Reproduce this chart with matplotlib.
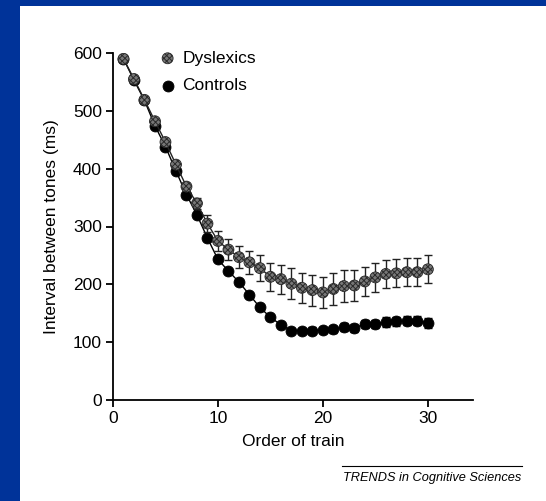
import matplotlib
matplotlib.use("Agg")
import matplotlib.pyplot as plt
from matplotlib.lines import Line2D
from matplotlib.patches import Rectangle
import numpy as np

plt.rcParams['font.family'] = ['Liberation Sans', 'DejaVu Sans']
plt.rcParams['hatch.linewidth'] = 0.7

# order of train
train = np.arange(1, 31)
# dyslexics: mean interval (ms) and error
dys = [590, 555, 519, 482, 446, 407, 369, 340, 305, 275,
       260, 247, 238, 228, 213, 209, 201, 194, 190, 186,
       192, 197, 198, 205, 212, 218, 219, 221, 221, 226]
dys_err = [0, 0, 0, 0, 0, 4, 6, 10, 15, 17,
           18, 19, 20, 22, 24, 25, 27, 26, 27, 27,
           27, 27, 26, 25, 25, 24, 24, 24, 24, 24]
# controls
ctrl = [590, 553, 518, 474, 438, 396, 355, 320, 280, 243,
        223, 204, 182, 160, 143, 130, 120, 120, 120, 121,
        122, 126, 124, 132, 131, 135, 136, 137, 137, 133]
ctrl_err = [0, 0, 0, 0, 0, 0, 0, 0, 0, 0,
            0, 0, 0, 0, 3, 4, 5, 5, 6, 6,
            6, 7, 7, 7, 7, 8, 8, 8, 8, 8]

W, H = 546, 501
fig = plt.figure(figsize=(W / 100, H / 100), dpi=100)
fig.patch.set_facecolor('#003399')
# white panel
fig.add_artist(Rectangle((20 / W, 0), 1 - 20 / W, (H - 6) / H,
                         transform=fig.transFigure, facecolor='white',
                         edgecolor='none', zorder=-10))

ax = fig.add_axes([113 / W, (H - 400) / H, 360 / W, 347 / H])
ax.set_facecolor('none')

# controls (black)
ax.errorbar(train, ctrl, yerr=ctrl_err, color='black', lw=1.0,
            elinewidth=1.0, capsize=2.6, capthick=1.0, zorder=2)
c_pts = ax.scatter(train, ctrl, s=62, facecolor='black', edgecolor='black',
                   linewidths=0.6, zorder=3)
# dyslexics (gray, dithered)
ax.errorbar(train, dys, yerr=dys_err, color='#222222', lw=1.0,
            elinewidth=1.0, capsize=2.6, capthick=1.0, zorder=4)
d_pts = ax.scatter(train, dys, s=62, facecolor='#777777', edgecolor='#2a2a2a',
                   hatch='xxxxxx', linewidths=0.6, zorder=5)

ax.set_xlim(0, 34.3)
ax.set_ylim(0, 600)
ax.set_xticks([0, 10, 20, 30])
ax.set_yticks([0, 100, 200, 300, 400, 500, 600])
for s in ['top', 'right']:
    ax.spines[s].set_visible(False)
for s in ['left', 'bottom']:
    ax.spines[s].set_linewidth(1.3)
ax.tick_params(direction='out', length=5, width=1.3, labelsize=12.5, pad=3)
ax.set_xlabel('Order of train', fontsize=12.5, labelpad=6)
ax.set_ylabel('Interval between tones (ms)', fontsize=12.5, labelpad=10)

ax.legend([d_pts, c_pts], ['Dyslexics', 'Controls'], loc='upper left',
          bbox_to_anchor=(152 / W, (H - 42) / H), bbox_transform=fig.transFigure,
          frameon=False, fontsize=12.5, handlelength=0.8, handletextpad=0.45,
          labelspacing=0.7, borderpad=0, scatterpoints=1, markerscale=1.0)

# source line
fig.add_artist(Line2D([342 / W, 522 / W], [(H - 466) / H, (H - 466) / H],
                      transform=fig.transFigure, color='black', lw=0.8))
fig.text(521 / W, (H - 478) / H, 'TRENDS in Cognitive Sciences',
         ha='right', va='center', fontsize=9.2, style='italic')

fig.savefig('out.png', dpi=100, facecolor=fig.get_facecolor())
